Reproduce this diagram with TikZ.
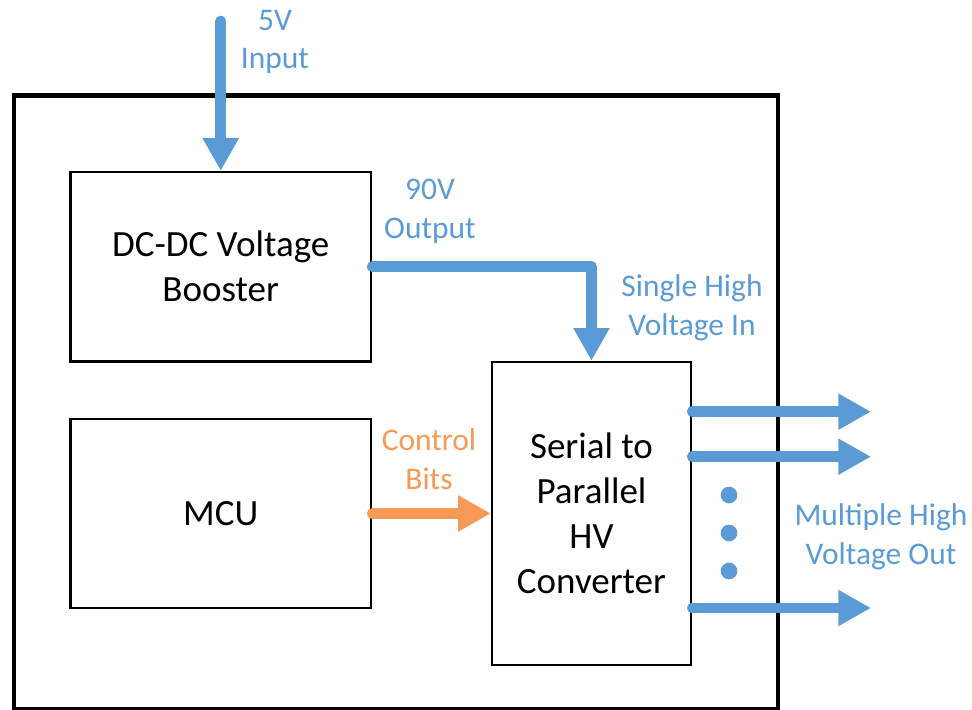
\documentclass[tikz,border=0pt]{standalone}
\usepackage{fontspec}
\setmainfont{Carlito}
\usetikzlibrary{arrows.meta}

\definecolor{hvblue}{HTML}{5B9BD5}
\definecolor{ctlorange}{HTML}{F79A56}

\tikzset{
  block/.style={draw, line width=1.75pt, minimum width=225.4pt, align=center,
    font=\fontsize{27.75}{33.75}\selectfont},
  tag/.style={align=center, font=\fontsize{23.6}{29}\selectfont},
  pwr/.style={hvblue, line width=7.9pt, line cap=round, line join=round,
    -{Triangle[width=25.5pt,length=24.5pt]}},
  ctl/.style={pwr, ctlorange},
}

\begin{document}
\begin{tikzpicture}[x=0.75pt,y=-0.75pt]
  \useasboundingbox (0,0) rectangle (972,710);
  % board outline
  \draw[line width=3.4pt] (14,95.5) rectangle (778,709.5);

  % blocks
  \node[block, minimum height=142.1pt] (boost) at (220.75,266.75) {DC-DC Voltage\\Booster};
  \node[block, minimum height=141.75pt] (mcu) at (220.75,513.5) {MCU};
  \node[block, minimum width=149.25pt, minimum height=227.25pt] (conv) at (591.5,513.5)
    {Serial to\\Parallel\\HV\\Converter};

  % labels
  \node[tag, hvblue] (lblin) at (275,42) {5V\\Input};
  \node[tag, hvblue] (lblhv) at (430,211) {90V\\Output};
  \node[tag, hvblue] (lblsingle) at (692,308) {Single High\\Voltage In};
  \node[tag, ctlorange] (lblctl) at (429,459) {Control\\Bits};
  \node[tag, hvblue] (lblmulti) at (881,537) {Multiple High\\Voltage Out};

  % power and control paths
  \coordinate (vin) at (220.75,21);
  \draw[pwr] (vin) -- (boost.north);
  \draw[pwr] (boost.east) -| (conv.north);
  \draw[ctl] (mcu.east) -- (conv.west);

  % outputs
  \foreach \y [count=\i] in {411.7,456.7,608} {
    \coordinate (out\i) at (871,\y);
    \draw[pwr] (conv.east |- out\i) -- (out\i);
  }
  \foreach \y [count=\i] in {495,533,571}
    \node[circle, fill=hvblue, inner sep=0pt, minimum size=12.5pt] (dot\i) at (729,\y) {};
\end{tikzpicture}
\end{document}
